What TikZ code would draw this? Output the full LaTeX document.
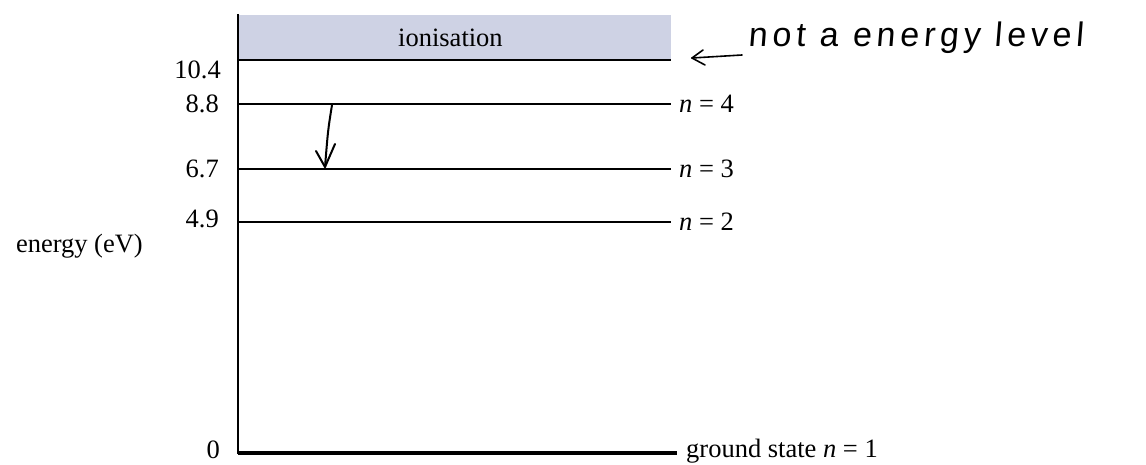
\documentclass[tikz,border=0pt]{standalone}
\usepackage{fontspec}
\setmainfont{Liberation Serif}
\newfontfamily\handfont[FakeSlant=0.08,LetterSpace=14]{Liberation Sans}
\usetikzlibrary{arrows.meta}
\definecolor{ionfill}{RGB}{206,210,228}
\tikzset{
  level/.style={line width=2.8pt, black},
  axisline/.style={line width=2.8pt, black},
  lab/.style={font=\fontsize{26.5}{30}\selectfont, inner sep=0pt},
  hand/.style={line width=1.6pt, line cap=round, line join=round},
}
\begin{document}
\begin{tikzpicture}[x=1pt,y=-1pt]
\useasboundingbox (0,0) rectangle (1146,465);
% ionisation band
\fill[ionfill] (238,15) rectangle (671,60);
\node[lab, anchor=west] (ion) at (398,38) {ionisation};
% axis
\coordinate (atop) at (238,14);
\coordinate (abot) at (238,454);
\draw[axisline] (atop) -- (abot);
% levels
\coordinate (l104a) at (238,60);  \coordinate (l104b) at (671,60);
\coordinate (l88a) at (238,104);  \coordinate (l88b) at (671,104);
\coordinate (l67a) at (238,169);  \coordinate (l67b) at (671,169);
\coordinate (l49a) at (238,222);  \coordinate (l49b) at (671,222);
\coordinate (l0a) at (238,453);   \coordinate (l0b) at (677,453);
\draw[level] (l104a) -- (l104b);
\draw[level] (l88a) -- (l88b);
\draw[level] (l67a) -- (l67b);
\draw[level] (l49a) -- (l49b);
\draw[level, line width=3.2pt] (l0a) -- (l0b);
% left values
\node[lab, anchor=east] (v104) at (221,70) {10.4};
\node[lab, anchor=east] (v88) at (219,104) {8.8};
\node[lab, anchor=east] (v67) at (219,169) {6.7};
\node[lab, anchor=east] (v49) at (219,219) {4.9};
\node[lab, anchor=east] (v0) at (220,450) {0};
\node[lab, anchor=east] (en) at (143,246) {energy (eV)};
% right labels
\node[lab, anchor=west] (n4) at (679,104) {\textit{n} = 4};
\node[lab, anchor=west] (n3) at (679,169) {\textit{n} = 3};
\node[lab, anchor=west] (n2) at (679,222) {\textit{n} = 2};
\node[lab, anchor=west] (n1) at (686,451) {ground state \textit{n} = 1};
% hand-drawn transition arrow
\coordinate (tr1) at (332,105);
\coordinate (tr2) at (325,167);
\draw[hand, line width=2pt] (tr1) .. controls (328,130) .. (tr2);
\coordinate (b1) at (316,151);
\coordinate (b2) at (335,144);
\draw[hand, line width=2pt] (b1) -- (tr2) -- (b2);
% handwritten note
\coordinate (ha) at (742,55);
\coordinate (hb) at (692,58);
\draw[hand] (ha) -- (hb);
\draw[hand] (703,50) -- (hb) -- (705,65);
\node[anchor=base west, inner sep=0pt, font=\handfont\fontsize{34}{40}\selectfont] (note) at (748,47) {not a energy level};
\end{tikzpicture}
\end{document}
